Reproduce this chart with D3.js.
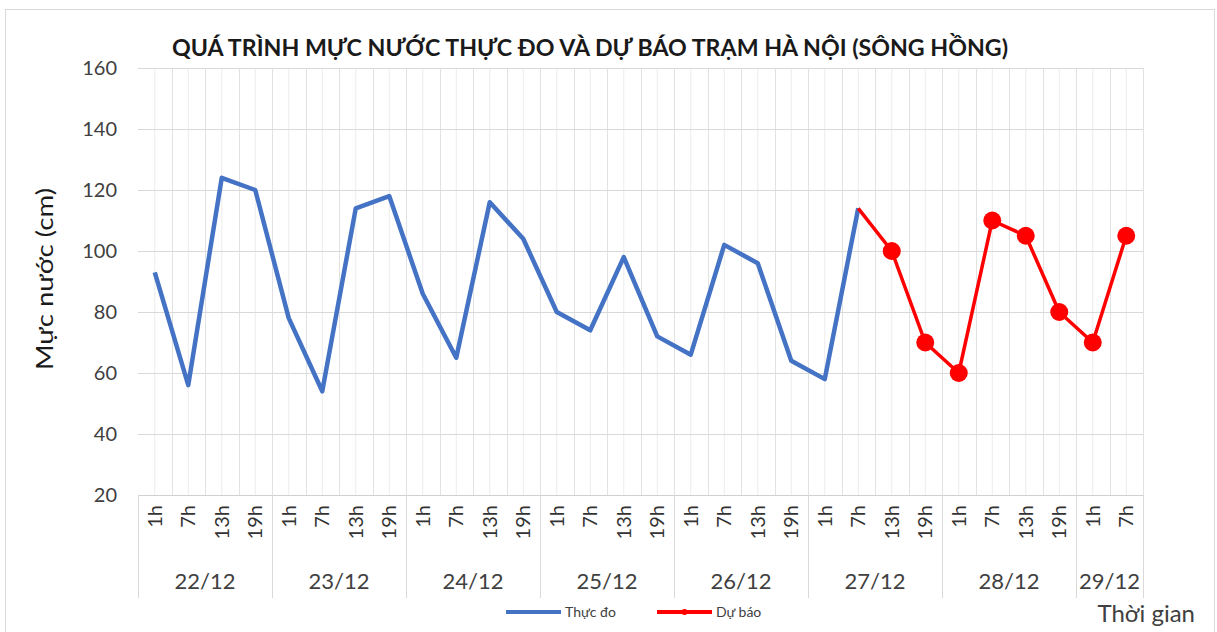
<!DOCTYPE html>
<meta charset="utf-8">
<script src="https://d3js.org/d3.v7.min.js"></script>
<style>
  body { margin: 0; background: #fff; }
  text { font-family: Lato, "Noto Sans", sans-serif; fill: #404040; }
</style>
<div id="my_dataviz"></div>
<script>

// days and hours shown on the two-level x axis
var days = ["22/12", "23/12", "24/12", "25/12", "26/12", "27/12", "28/12", "29/12"];
var dayHours = [
  ["1h", "7h", "13h", "19h"],
  ["1h", "7h", "13h", "19h"],
  ["1h", "7h", "13h", "19h"],
  ["1h", "7h", "13h", "19h"],
  ["1h", "7h", "13h", "19h"],
  ["1h", "7h", "13h", "19h"],
  ["1h", "7h", "13h", "19h"],
  ["1h", "7h"]
];

// water level (cm) - measured, from 22/12 1h to 27/12 7h
var thucDo = [93, 56, 124, 120, 78, 54, 114, 118, 86, 65, 116, 104,
              80, 74, 98, 72, 66, 102, 96, 64, 58, 114];
// forecast, from 27/12 7h to 29/12 7h
var duBao = [114, 100, 70, 60, 110, 105, 80, 70, 105];

var yTicks = [20, 40, 60, 80, 100, 120, 140, 160];

// flatten categories
var cats = [];
days.forEach(function(d, i) {
  dayHours[i].forEach(function(h) { cats.push({ day: d, hour: h, key: d + " " + h }); });
});

var W = 1217, H = 632;
var svg = d3.select("#my_dataviz").append("svg")
  .attr("width", W).attr("height", H);

// chart frame
svg.append("rect")
  .attr("x", 5.5).attr("y", 9.5).attr("width", 1209).attr("height", 640)
  .attr("fill", "#fff").attr("stroke", "#d9d9d9");

var x = d3.scaleBand()
  .domain(cats.map(function(c) { return c.key; }))
  .range([138, 1143])
  .padding(0);

var y = d3.scaleLinear()
  .domain([20, 160])
  .range([495, 68]);

var bw = x.bandwidth();

// vertical grid (category boundaries + centres)
var grid = svg.append("g");
cats.forEach(function(c, i) {
  var x0 = x(c.key);
  grid.append("line")
    .attr("x1", x0 + bw / 2).attr("x2", x0 + bw / 2)
    .attr("y1", y(160)).attr("y2", y(20))
    .attr("stroke", "#ececec").attr("stroke-width", 1);
  if (i > 0) {
    grid.append("line")
      .attr("x1", Math.round(x0) + 0.5).attr("x2", Math.round(x0) + 0.5)
      .attr("y1", y(160)).attr("y2", y(20))
      .attr("stroke", "#e2e2e2").attr("stroke-width", 1);
  }
});
grid.append("line")
  .attr("x1", 1143.5).attr("x2", 1143.5)
  .attr("y1", y(160)).attr("y2", y(20))
  .attr("stroke", "#e2e2e2");

// horizontal grid
svg.append("g").selectAll("line")
  .data(yTicks)
  .enter().append("line")
    .attr("x1", 138).attr("x2", 1143)
    .attr("y1", function(d) { return Math.round(y(d)) + 0.5; })
    .attr("y2", function(d) { return Math.round(y(d)) + 0.5; })
    .attr("stroke", function(d) { return d == 20 ? "#d0d0d0" : "#d9d9d9"; })
    .attr("stroke-width", 1);

// y tick labels
svg.append("g").selectAll("text")
  .data(yTicks)
  .enter().append("text")
    .attr("x", 117)
    .attr("y", function(d) { return y(d); })
    .attr("dy", "0.35em")
    .attr("text-anchor", "end")
    .style("font-size", "20px")
    .text(function(d) { return d; });

// x axis: hour labels, rotated
var xa = svg.append("g");
cats.forEach(function(c) {
  var cx = x(c.key) + bw / 2;
  xa.append("text")
    .attr("transform", "translate(" + (cx + 7) + ",505) rotate(-90)")
    .attr("text-anchor", "end")
    .style("font-size", "20px")
    .style("fill", "#333")
    .text(c.hour);
});

// x axis: day groups + separators
var start = 0;
days.forEach(function(d, i) {
  var first = cats[start].key;
  var last = cats[start + dayHours[i].length - 1].key;
  var gx0 = x(first), gx1 = x(last) + bw;
  xa.append("line")
    .attr("x1", Math.round(gx0) + 0.5).attr("x2", Math.round(gx0) + 0.5)
    .attr("y1", 495).attr("y2", 598)
    .attr("stroke", "#d9d9d9");
  xa.append("text")
    .attr("x", (gx0 + gx1) / 2)
    .attr("y", 589)
    .attr("text-anchor", "middle")
    .style("font-size", "22px")
    .text(d);
  start += dayHours[i].length;
});
xa.append("line")
  .attr("x1", 1143.5).attr("x2", 1143.5)
  .attr("y1", 495).attr("y2", 598)
  .attr("stroke", "#d9d9d9");

// lines
var line = d3.line()
  .x(function(d) { return x(d.key) + bw / 2; })
  .y(function(d) { return y(d.v); });

var measured = thucDo.map(function(v, i) { return { key: cats[i].key, v: v }; });
var fStart = thucDo.length - 1;
var forecast = duBao.map(function(v, i) { return { key: cats[fStart + i].key, v: v }; });

svg.append("path")
  .datum(measured)
  .attr("fill", "none")
  .attr("stroke", "#4472C4")
  .attr("stroke-width", 4.5)
  .attr("stroke-linejoin", "round")
  .attr("d", line);

svg.append("path")
  .datum(forecast)
  .attr("fill", "none")
  .attr("stroke", "#FF0000")
  .attr("stroke-width", 3.5)
  .attr("stroke-linejoin", "round")
  .attr("d", line);

svg.append("g").selectAll("circle")
  .data(forecast.slice(1))
  .enter().append("circle")
    .attr("cx", function(d) { return x(d.key) + bw / 2; })
    .attr("cy", function(d) { return y(d.v); })
    .attr("r", 9)
    .attr("fill", "#FF0000");

// title
svg.append("text")
  .attr("x", 590)
  .attr("y", 56)
  .attr("text-anchor", "middle")
  .attr("textLength", 836)
  .attr("lengthAdjust", "spacingAndGlyphs")
  .style("font-size", "22px")
  .style("font-weight", "bold")
  .style("fill", "#1a1a1a")
  .text("QUÁ TRÌNH MỰC NƯỚC THỰC ĐO VÀ DỰ BÁO TRẠM HÀ NỘI (SÔNG HỒNG)");

// y axis title
svg.append("text")
  .attr("transform", "translate(53,279) rotate(-90)")
  .attr("text-anchor", "middle")
  .attr("textLength", 182)
  .attr("lengthAdjust", "spacingAndGlyphs")
  .style("font-size", "23px")
  .style("fill", "#1a1a1a")
  .text("Mực nước (cm)");

// x axis title
svg.append("text")
  .attr("x", 1195)
  .attr("y", 622)
  .attr("text-anchor", "end")
  .style("font-size", "24px")
  .text("Thời gian");

// legend
var lg = svg.append("g");
lg.append("line").attr("x1", 506).attr("x2", 561).attr("y1", 612).attr("y2", 612)
  .attr("stroke", "#4472C4").attr("stroke-width", 4);
lg.append("text").attr("x", 565).attr("y", 617).style("font-size", "14px").text("Thực đo");
lg.append("line").attr("x1", 657).attr("x2", 712).attr("y1", 612).attr("y2", 612)
  .attr("stroke", "#FF0000").attr("stroke-width", 4);
lg.append("circle").attr("cx", 684.5).attr("cy", 612).attr("r", 3).attr("fill", "#FF0000");
lg.append("text").attr("x", 716).attr("y", 617).style("font-size", "14px").text("Dự báo");

</script>
